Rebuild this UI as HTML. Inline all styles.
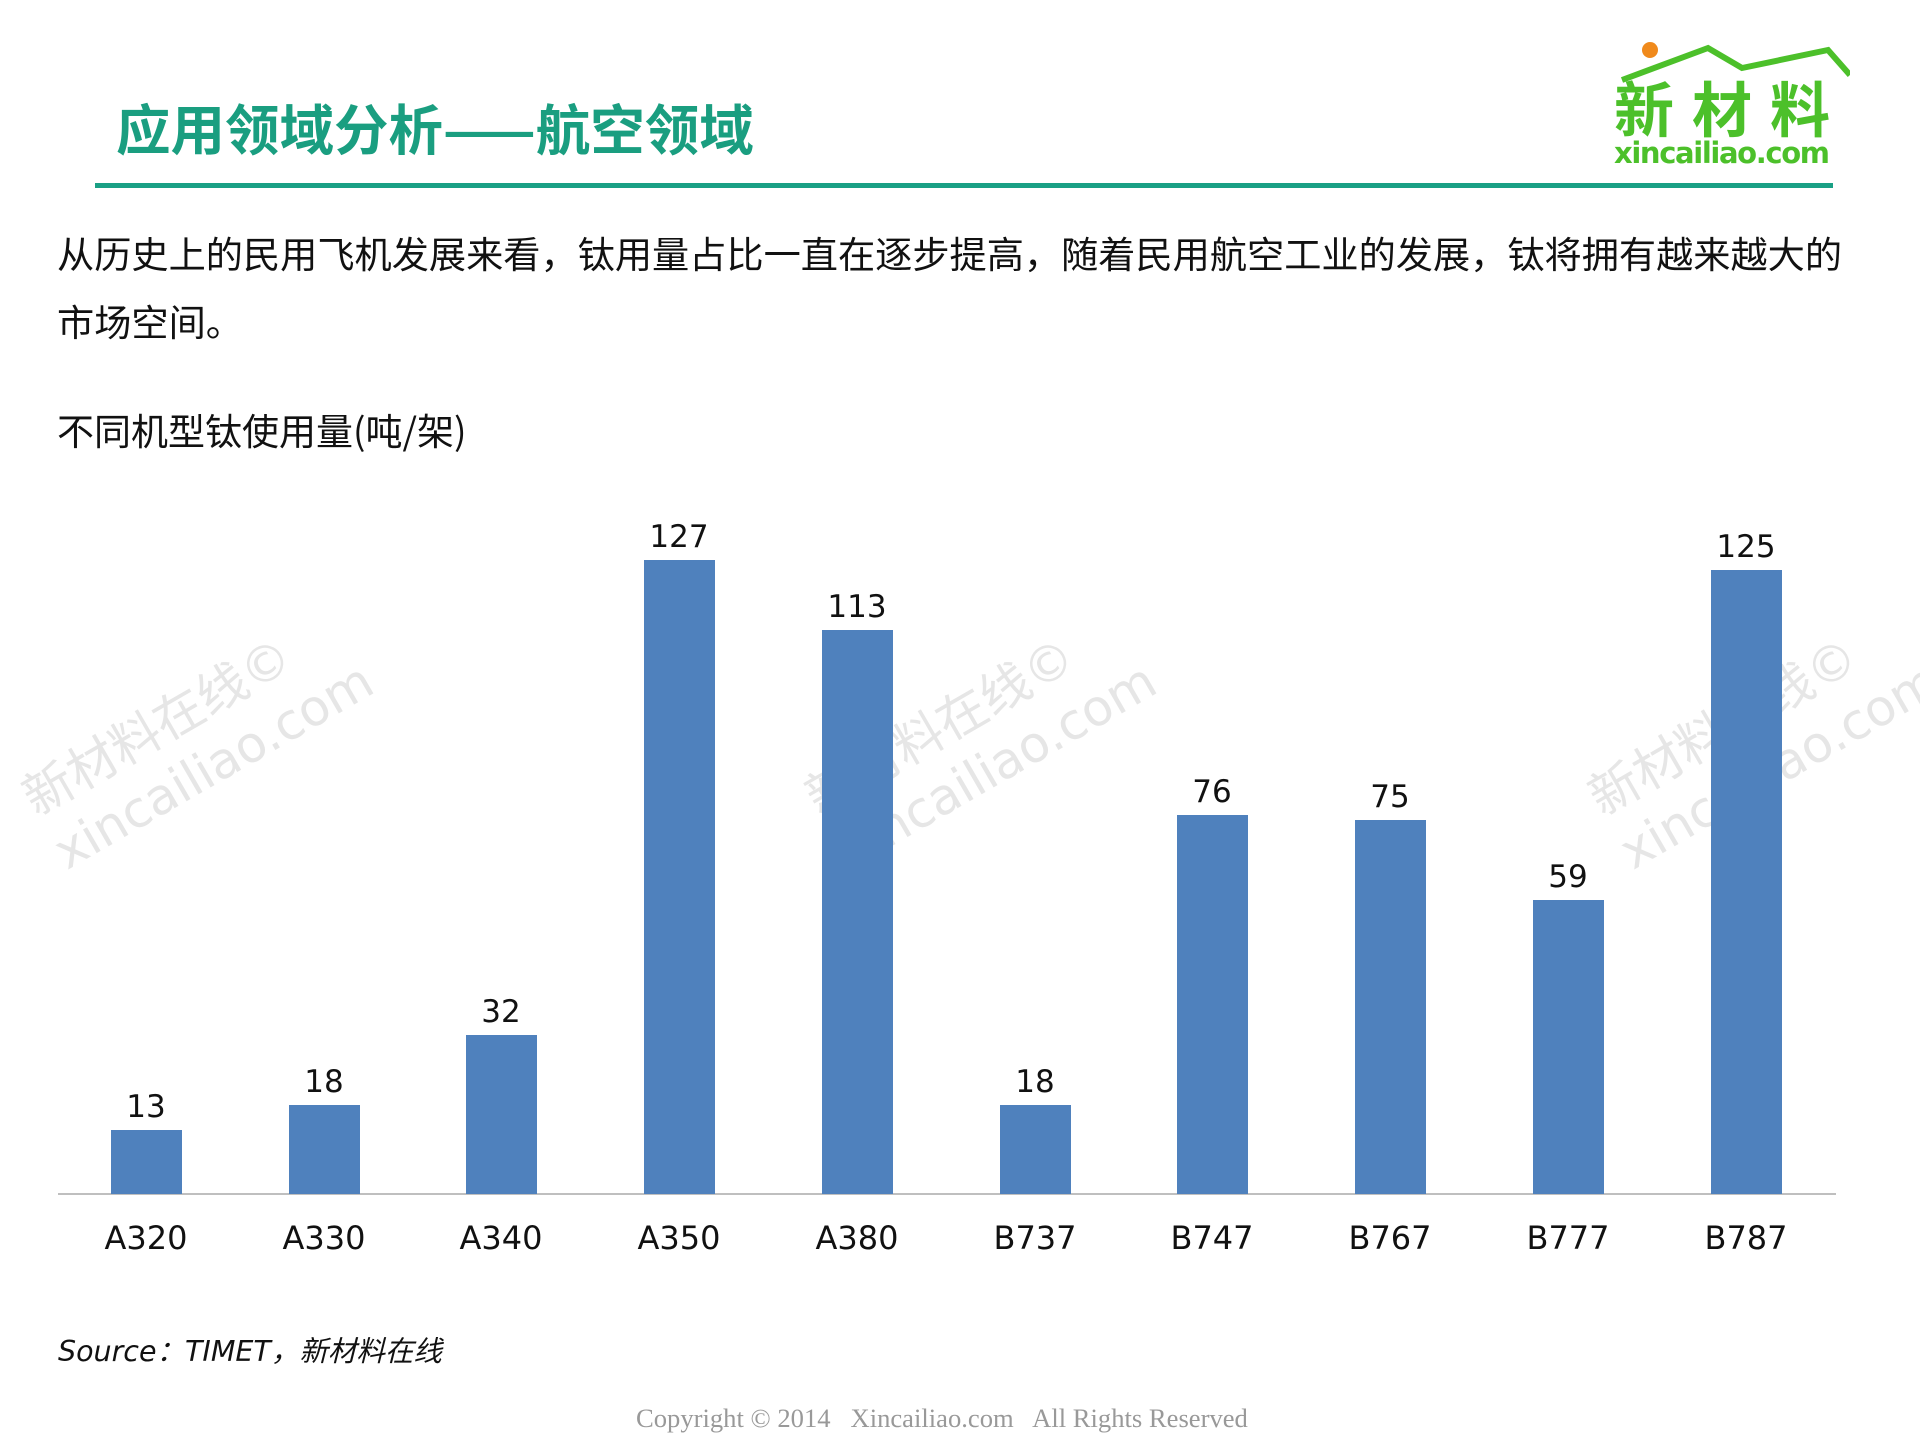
<!DOCTYPE html>
<html><head><meta charset="utf-8"><style>
body{margin:0;width:1920px;height:1440px;background:#fff;position:relative;overflow:hidden;font-family:"Liberation Sans","Noto Sans CJK SC",sans-serif}
.a{position:absolute;white-space:nowrap}
.wm{position:absolute;color:#e6e6e6;font-size:50px;transform:rotate(-30deg);transform-origin:left top;line-height:62px;font-family:"DejaVu Sans","Noto Sans CJK SC",sans-serif}
.bar{position:absolute;background:#4f81bd;width:71px}
.v,.x{position:absolute;width:120px;text-align:center;font-family:"DejaVu Sans",sans-serif;color:#111}
.v{font-size:31px}.x{font-size:32px}
</style></head><body>
<div class="wm" style="left:12px;top:775px">新材料在线©<br>xincailiao.com</div>
<div class="wm" style="left:795px;top:775px">新材料在线©<br>xincailiao.com</div>
<div class="wm" style="left:1578px;top:775px">新材料在线©<br>xincailiao.com</div>

<div class="a" style="left:116px;top:95px;font-size:54.5px;font-weight:bold;color:#1a9e80;line-height:64px;font-family:'Noto Sans CJK SC',sans-serif">应用领域分析——航空领域</div>
<div class="a" style="left:95px;top:183px;width:1738px;height:5px;background:#1aa085"></div>

<svg class="a" style="left:1600px;top:30px" width="250" height="145">
<circle cx="50" cy="20" r="8" fill="#f08a1c"/>
<polyline points="22,50 108,18 142,38 228,20 250,45" fill="none" stroke="#4cc02a" stroke-width="6"/>
<text x="14" y="102" font-size="60" font-weight="bold" fill="#4cc02a" font-family="Noto Sans CJK SC,sans-serif" textLength="216">新材料</text>
<text x="14" y="133" font-size="29" font-weight="bold" fill="#4cc02a" font-family="DejaVu Sans,sans-serif" textLength="216">xincailiao.com</text>
</svg>

<div class="a" style="left:57px;top:218px;font-size:37.2px;line-height:68px;color:#111;font-family:'Noto Sans CJK SC',sans-serif">从历史上的民用飞机发展来看，钛用量占比一直在逐步提高，随着民用航空工业的发展，钛将拥有越来越大的<br>市场空间。</div>
<div class="a" style="left:57px;top:406px;font-size:37px;color:#111;line-height:46px;font-family:'Noto Sans CJK SC',sans-serif">不同机型钛使用量(吨/架)</div>

<div class="a" style="left:58px;top:1193px;width:1778px;height:2px;background:#bfbfbf"></div>

<div class="bar" style="left:111px;top:1130px;height:64px"></div>
<div class="bar" style="left:289px;top:1105px;height:89px"></div>
<div class="bar" style="left:466px;top:1035px;height:159px"></div>
<div class="bar" style="left:644px;top:560px;height:634px"></div>
<div class="bar" style="left:822px;top:630px;height:564px"></div>
<div class="bar" style="left:1000px;top:1105px;height:89px"></div>
<div class="bar" style="left:1177px;top:815px;height:379px"></div>
<div class="bar" style="left:1355px;top:820px;height:374px"></div>
<div class="bar" style="left:1533px;top:900px;height:294px"></div>
<div class="bar" style="left:1711px;top:570px;height:624px"></div>

<div class="v" style="left:86px;top:1089px">13</div>
<div class="v" style="left:264px;top:1064px">18</div>
<div class="v" style="left:441px;top:994px">32</div>
<div class="v" style="left:619px;top:519px">127</div>
<div class="v" style="left:797px;top:589px">113</div>
<div class="v" style="left:975px;top:1064px">18</div>
<div class="v" style="left:1152px;top:774px">76</div>
<div class="v" style="left:1330px;top:779px">75</div>
<div class="v" style="left:1508px;top:859px">59</div>
<div class="v" style="left:1686px;top:529px">125</div>

<div class="x" style="left:86px;top:1219px">A320</div>
<div class="x" style="left:264px;top:1219px">A330</div>
<div class="x" style="left:441px;top:1219px">A340</div>
<div class="x" style="left:619px;top:1219px">A350</div>
<div class="x" style="left:797px;top:1219px">A380</div>
<div class="x" style="left:975px;top:1219px">B737</div>
<div class="x" style="left:1152px;top:1219px">B747</div>
<div class="x" style="left:1330px;top:1219px">B767</div>
<div class="x" style="left:1508px;top:1219px">B777</div>
<div class="x" style="left:1686px;top:1219px">B787</div>

<div class="a" style="left:58px;top:1329px;font-size:28.5px;font-style:italic;color:#111;font-family:'DejaVu Sans','Noto Sans CJK SC',sans-serif">Source：TIMET，新材料在线</div>
<div class="a" style="left:636px;top:1403px;font-size:26.6px;color:#999;font-family:'Liberation Serif',serif">Copyright © 2014&nbsp;&nbsp; Xincailiao.com&nbsp;&nbsp; All Rights Reserved</div>
</body></html>
